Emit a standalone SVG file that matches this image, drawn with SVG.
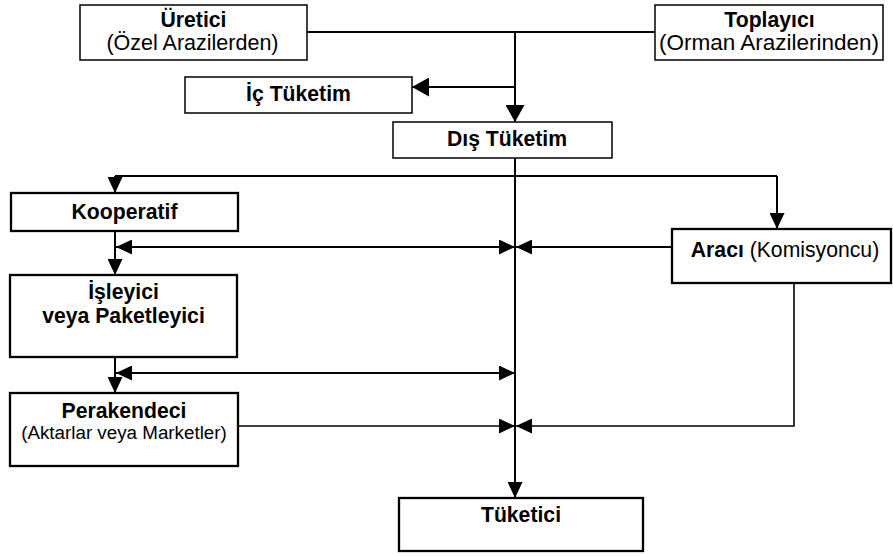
<svg xmlns="http://www.w3.org/2000/svg" width="893" height="556" viewBox="0 0 893 556">
<style>
  .box { fill: #fff; stroke: #000; stroke-width: 2.3; }
  .thin { stroke-width: 1.5; }
  text { font-family: "Liberation Sans", Arial, sans-serif; font-size: 21.2px; fill: #000; text-anchor: middle; }
  .b { font-weight: bold; }
  .ln { fill: none; stroke: #000; stroke-width: 2; }
  .ln1 { fill: none; stroke: #000; stroke-width: 1.6; }
  .ar { marker-end: url(#ah); }
  .arB { marker-end: url(#ahB); }
  .dbl { marker-start: url(#ah); marker-end: url(#ah); }
</style>
<defs>
  <marker id="ah" markerUnits="userSpaceOnUse" markerWidth="16" markerHeight="15" refX="16" refY="7.5" orient="auto-start-reverse">
    <path d="M0,0 L16,7.5 L0,15 z" fill="#000"/>
  </marker>
  <marker id="ahB" markerUnits="userSpaceOnUse" markerWidth="17" markerHeight="19" refX="17" refY="9.5" orient="auto">
    <path d="M0,0 L17,9.5 L0,19 z" fill="#000"/>
  </marker>
</defs>

<g id="connectors">
  <line class="ln" x1="307" y1="32" x2="655" y2="32"/>
  <line class="ln arB" x1="515" y1="32" x2="515" y2="122"/>
  <line class="ln arB" x1="515" y1="87" x2="412" y2="87"/>
  <line class="ln ar" x1="515" y1="158" x2="515" y2="498"/>
  <polyline class="ln ar" points="115,176 115,193"/>
  <line class="ln" x1="115" y1="176" x2="777" y2="176"/>
  <polyline class="ln ar" points="777,176 777,229"/>
  <line class="ln dbl" x1="116" y1="247" x2="515" y2="247"/>
  <line class="ln ar" x1="672" y1="247" x2="516" y2="247"/>
  <line class="ln ar" x1="115" y1="231" x2="115" y2="275"/>
  <line class="ln ar" x1="115" y1="357" x2="115" y2="393"/>
  <line class="ln dbl" x1="116" y1="373" x2="515" y2="373"/>
  <line class="ln1 ar" x1="238" y1="426" x2="515" y2="426"/>
  <polyline class="ln1 ar" points="794,283 794,426 516,426"/>
</g>

<g id="uretici">
  <rect class="box thin" x="80" y="5" width="227" height="55"/>
  <text class="b" x="193.5" y="27">Üretici</text>
  <text x="192.5" y="50" style="font-size:21.5px">(Özel Arazilerden)</text>
</g>
<g id="toplayici">
  <rect class="box thin" x="655" y="5" width="228" height="55"/>
  <text class="b" x="769.5" y="27">Toplayıcı</text>
  <text x="769" y="50" style="font-size:22.5px">(Orman Arazilerinden)</text>
</g>
<g id="ic-tuketim">
  <rect class="box thin" x="185" y="77" width="227" height="36"/>
  <text class="b" x="298.5" y="101">İç Tüketim</text>
</g>
<g id="dis-tuketim">
  <rect class="box thin" x="393" y="122" width="219" height="36"/>
  <text class="b" x="507" y="146">Dış Tüketim</text>
</g>
<g id="kooperatif">
  <rect class="box" x="11" y="193" width="227" height="38"/>
  <text class="b" x="124.5" y="219">Kooperatif</text>
</g>
<g id="araci">
  <rect class="box" x="672" y="229" width="219" height="54"/>
  <text x="785" y="257"><tspan class="b">Aracı</tspan> (Komisyoncu)</text>
</g>
<g id="isleyici">
  <rect class="box" x="10" y="275" width="227" height="82"/>
  <text class="b" x="123.5" y="299">İşleyici</text>
  <text class="b" x="123.5" y="323">veya Paketleyici</text>
</g>
<g id="perakendeci">
  <rect class="box" x="10" y="393" width="228" height="73"/>
  <text class="b" x="124" y="418">Perakendeci</text>
  <text x="124" y="439" style="font-size:18.8px">(Aktarlar veya Marketler)</text>
</g>
<g id="tuketici">
  <rect class="box" x="399" y="498" width="244" height="53"/>
  <text class="b" x="521" y="522">Tüketici</text>
</g>
</svg>
